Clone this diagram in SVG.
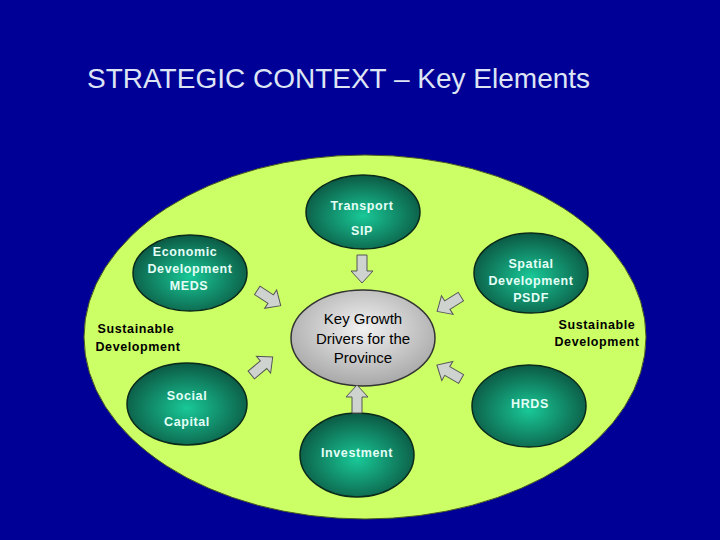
<svg xmlns="http://www.w3.org/2000/svg" width="720" height="540" viewBox="0 0 720 540">
<style>
.n{stroke:#0a2a1a;stroke-width:1.5;fill:url(#g)}
.t{font-family:"Liberation Sans",Arial,sans-serif;font-size:12.5px;font-weight:bold;fill:#e4fff6;text-anchor:middle;letter-spacing:0.6px}
.k{font-family:"Liberation Sans",Arial,sans-serif;font-size:12.5px;font-weight:bold;fill:#000;text-anchor:middle;letter-spacing:0.6px}
.a{fill:#cfd3cf;stroke:#555;stroke-width:1}
</style>
<defs>
<radialGradient id="g" cx="50%" cy="55%" r="60%"><stop offset="0" stop-color="#19c897"/><stop offset="1" stop-color="#0a4f3c"/></radialGradient>
<radialGradient id="c" cx="50%" cy="40%" r="60%"><stop offset="0" stop-color="#f2f2f2"/><stop offset="1" stop-color="#a8a8a8"/></radialGradient>
<path id="ar" d="M-14,-5 L2,-5 L2,-11 L14,0 L2,11 L2,5 L-14,5 Z"/>
</defs>
<rect width="720" height="540" fill="#000096"/>
<text x="87" y="88" font-family="Liberation Sans,Arial,sans-serif" font-size="28" fill="#dde4f4">STRATEGIC CONTEXT – Key Elements</text>
<ellipse cx="365" cy="337" rx="281" ry="182" fill="#ccff66" stroke="#4a5a20" stroke-width="1"/>
<g id="center"><ellipse cx="363" cy="338" rx="72" ry="48" fill="url(#c)" stroke="#333" stroke-width="1.5"/>
<text font-family="Liberation Sans,Arial,sans-serif" font-size="15" text-anchor="middle" fill="#000"><tspan x="363" y="324">Key Growth</tspan><tspan x="363" y="344">Drivers for the</tspan><tspan x="363" y="363">Province</tspan></text></g>
<g id="transport"><ellipse class="n" cx="363" cy="212" rx="57" ry="37"/><text class="t"><tspan x="362" y="210">Transport</tspan><tspan x="362" y="235">SIP</tspan></text></g>
<g id="economic"><ellipse class="n" cx="190" cy="273" rx="57" ry="38"/><text class="t"><tspan x="185" y="256">Economic</tspan><tspan x="190" y="273">Development</tspan><tspan x="189" y="290">MEDS</tspan></text></g>
<g id="sustainable-left"><text class="k"><tspan x="136" y="333">Sustainable</tspan><tspan x="138" y="351">Development</tspan></text></g>
<g id="social"><ellipse class="n" cx="187" cy="404" rx="60" ry="41"/><text class="t"><tspan x="187" y="400">Social</tspan><tspan x="187" y="426">Capital</tspan></text></g>
<g id="investment"><ellipse class="n" cx="357" cy="455" rx="57" ry="42"/><text class="t"><tspan x="357" y="457">Investment</tspan></text></g>
<g id="hrds"><ellipse class="n" cx="529" cy="406" rx="57" ry="41"/><text class="t"><tspan x="530" y="408">HRDS</tspan></text></g>
<g id="sustainable-right"><text class="k"><tspan x="597" y="329">Sustainable</tspan><tspan x="597" y="346">Development</tspan></text></g>
<g id="spatial"><ellipse class="n" cx="531" cy="273" rx="57" ry="40"/><text class="t"><tspan x="531" y="268">Spatial</tspan><tspan x="531" y="285">Development</tspan><tspan x="531" y="302">PSDF</tspan></text></g>
<g id="connectors">
<use href="#ar" class="a" transform="translate(362,269) rotate(90)"/>
<use href="#ar" class="a" transform="translate(357,399) rotate(-90)"/>
<use href="#ar" class="a" transform="translate(269,298) rotate(33)"/>
<use href="#ar" class="a" transform="translate(262,366) rotate(-40)"/>
<use href="#ar" class="a" transform="translate(449,304) rotate(148)"/>
<use href="#ar" class="a" transform="translate(449,372) rotate(-150)"/>
</g>
</svg>
